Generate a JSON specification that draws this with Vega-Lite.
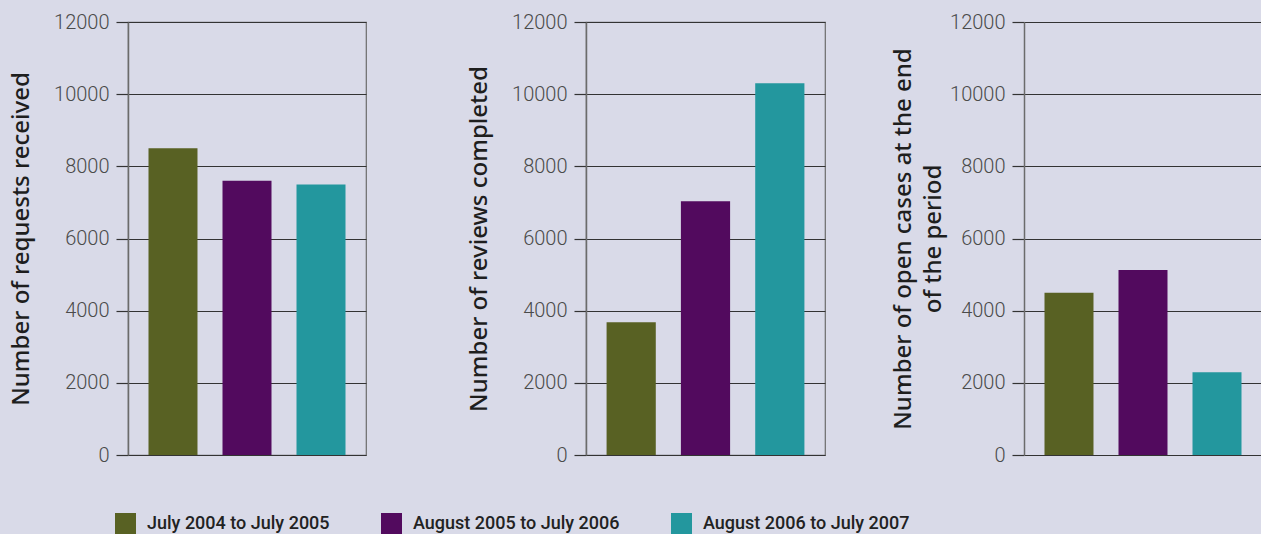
{
  "$schema": "https://vega.github.io/schema/vega-lite/v6.json",
  "background": "#d9dae8",
  "padding": {"left": 8, "top": 11, "right": 0, "bottom": 0},
  "datasets": {
    "d": [
      {"panel": "requests", "period": "July 2004 to July 2005", "value": 8500},
      {"panel": "requests", "period": "August 2005 to July 2006", "value": 7600},
      {"panel": "requests", "period": "August 2006 to July 2007", "value": 7500},
      {"panel": "reviews", "period": "July 2004 to July 2005", "value": 3680},
      {"panel": "reviews", "period": "August 2005 to July 2006", "value": 7030},
      {"panel": "reviews", "period": "August 2006 to July 2007", "value": 10300},
      {"panel": "open", "period": "July 2004 to July 2005", "value": 4500},
      {"panel": "open", "period": "August 2005 to July 2006", "value": 5130},
      {"panel": "open", "period": "August 2006 to July 2007", "value": 2290}
    ]
  },
  "config": {
    "view": {"stroke": "#6b6b6b", "strokeWidth": 1.2},
    "axisY": {
      "tickSize": 12,
      "tickColor": "#333333",
      "tickWidth": 1.2,
      "domainColor": "#6b6b6b",
      "domainWidth": 1.5,
      "gridColor": "#333333",
      "gridWidth": 1.2,
      "gridOpacity": 1,
      "labelFont": "Roboto",
      "labelFontWeight": 300,
      "labelFontSize": 20,
      "labelColor": "#4a4a4a",
      "labelPadding": 7,
      "titleFont": "Noto Sans",
      "titleFontWeight": 500,
      "titleFontSize": 24,
      "titleColor": "#1e1e1e",
      "titlePadding": 20
    },
    "legend": {
      "orient": "none",
      "legendX": -13,
      "legendY": 491,
      "direction": "horizontal",
      "symbolType": "square",
      "symbolSize": 441,
      "symbolStrokeWidth": 0,
      "symbolOpacity": 1,
      "labelFont": "Roboto",
      "labelFontWeight": 500,
      "labelFontSize": 18,
      "labelColor": "#222222",
      "labelOffset": 11,
      "columnPadding": 51,
      "labelLimit": 400
    }
  },
  "spacing": 99,
  "hconcat": [
    {
      "width": 238,
      "height": 433,
      "data": {"name": "d"},
      "transform": [{"filter": "datum.panel === 'requests'"}],
      "mark": {"type": "bar"},
      "encoding": {
        "x": {"field": "period", "type": "nominal", "sort": null, "axis": null,
              "scale": {"paddingInner": 0.338, "paddingOuter": 0.277}},
        "y": {"field": "value", "type": "quantitative", "title": "Number of requests received",
              "axis": {"values": [0, 2000, 4000, 6000, 8000, 10000, 12000], "format": "d"},
              "scale": {"domain": [0, 12000], "nice": false}},
        "color": {"field": "period", "type": "nominal", "sort": null, "title": null,
                  "scale": {"domain": ["July 2004 to July 2005", "August 2005 to July 2006", "August 2006 to July 2007"],
                            "range": ["#586123", "#520a5e", "#23979e"]}}
      }
    },
    {
      "spacing": 65,
      "hconcat": [
        {
          "width": 239,
          "height": 433,
          "data": {"name": "d"},
          "transform": [{"filter": "datum.panel === 'reviews'"}],
          "mark": {"type": "bar"},
          "encoding": {
            "x": {"field": "period", "type": "nominal", "sort": null, "axis": null,
                  "scale": {"paddingInner": 0.338, "paddingOuter": 0.277}},
            "y": {"field": "value", "type": "quantitative", "title": "Number of reviews completed",
                  "axis": {"values": [0, 2000, 4000, 6000, 8000, 10000, 12000], "format": "d"},
                  "scale": {"domain": [0, 12000], "nice": false}},
            "color": {"field": "period", "type": "nominal", "sort": null, "title": null,
                      "scale": {"domain": ["July 2004 to July 2005", "August 2005 to July 2006", "August 2006 to July 2007"],
                                "range": ["#586123", "#520a5e", "#23979e"]}}
          }
        },
        {
          "width": 238,
          "height": 433,
          "view": {"stroke": null},
          "data": {"name": "d"},
          "transform": [{"filter": "datum.panel === 'open'"}],
          "mark": {"type": "bar"},
          "encoding": {
            "x": {"field": "period", "type": "nominal", "sort": null, "axis": null,
                  "scale": {"paddingInner": 0.338, "paddingOuter": 0.277}},
            "y": {"field": "value", "type": "quantitative", "title": ["Number of open cases at the end", "of the period"],
                  "axis": {"values": [0, 2000, 4000, 6000, 8000, 10000, 12000], "format": "d", "titlePadding": 4, "titleLineHeight": 30},
                  "scale": {"domain": [0, 12000], "nice": false}},
            "color": {"field": "period", "type": "nominal", "sort": null, "title": null,
                      "scale": {"domain": ["July 2004 to July 2005", "August 2005 to July 2006", "August 2006 to July 2007"],
                                "range": ["#586123", "#520a5e", "#23979e"]}}
          }
        }
      ]
    }
  ]
}
